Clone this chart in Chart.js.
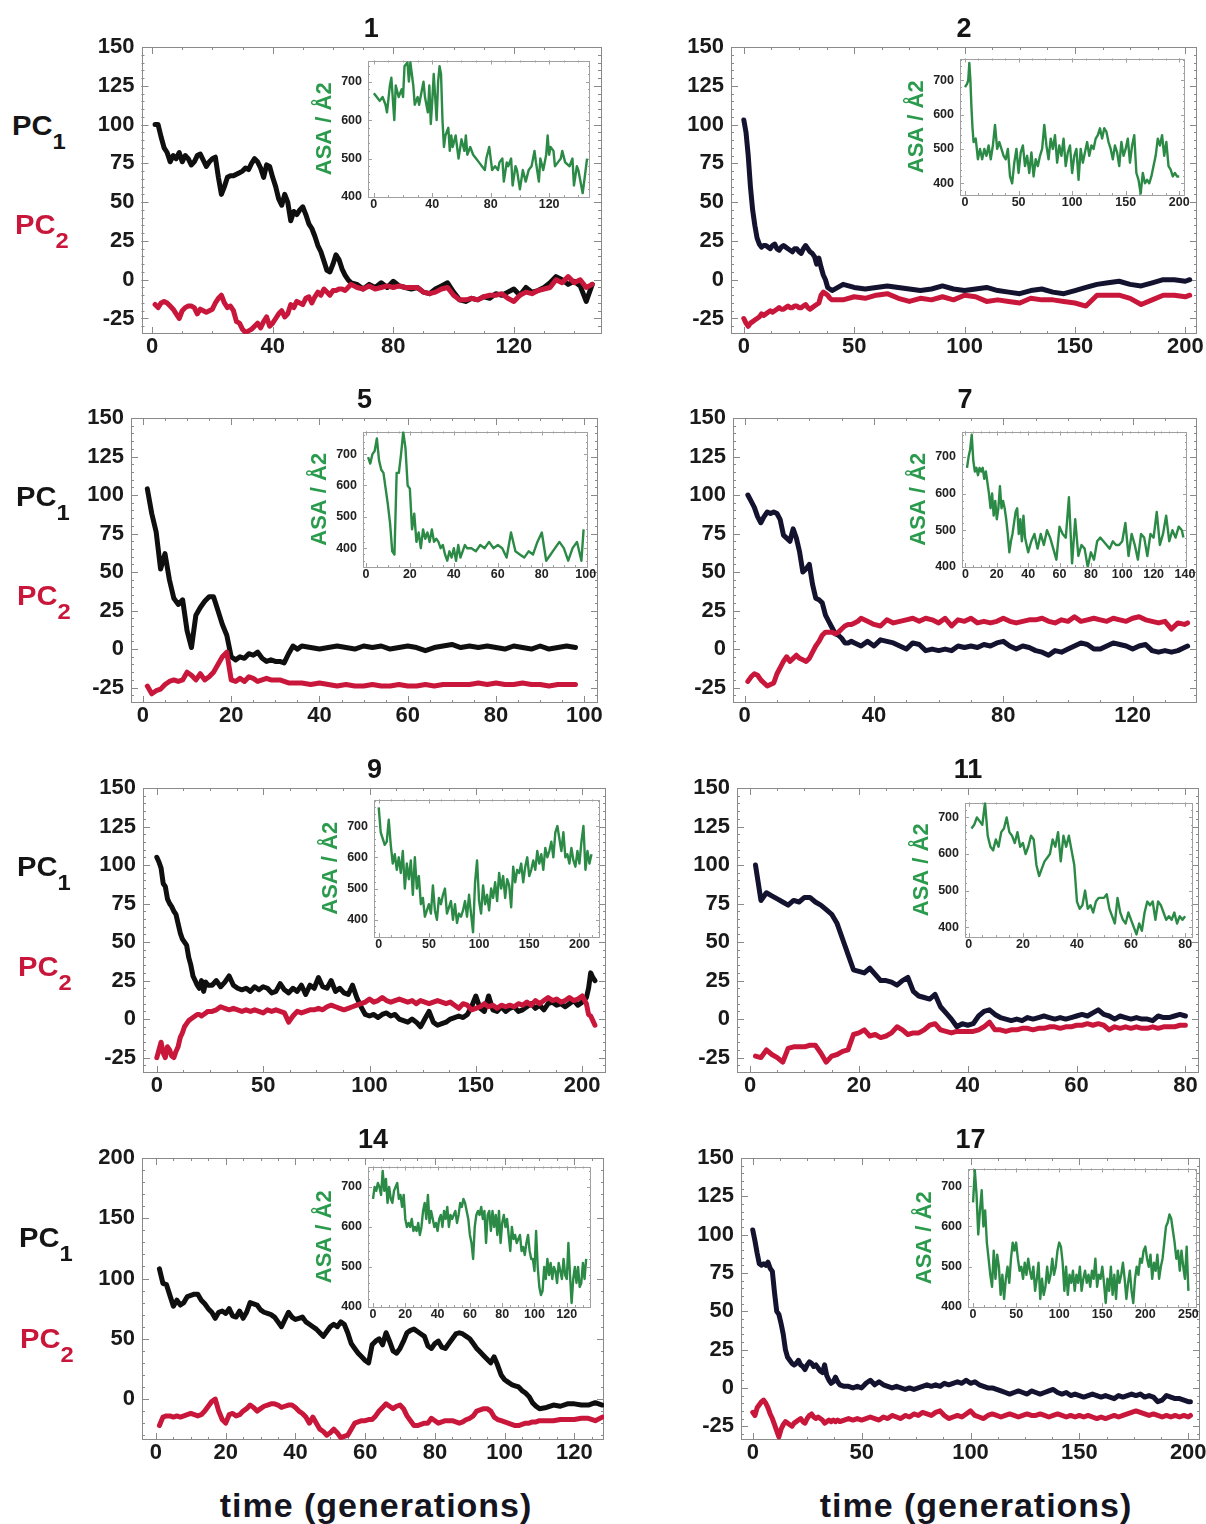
<!DOCTYPE html>
<html><head><meta charset="utf-8">
<script src="https://cdn.jsdelivr.net/npm/chart.js@4/dist/chart.umd.min.js"></script>
<style>
html,body{margin:0;padding:0;background:#fff;}
body{width:1206px;height:1524px;position:relative;overflow:hidden;font-family:"Liberation Sans",Arial,Helvetica,sans-serif;}
canvas{position:absolute;}
.pc{position:absolute;font-weight:bold;font-size:27px;line-height:27px;white-space:nowrap;transform-origin:left center;transform:scaleX(1.08);z-index:5;}
.pc .s{font-size:22px;vertical-align:-14px;}
.tl{position:absolute;width:420px;text-align:center;font-weight:bold;font-size:34px;line-height:34px;letter-spacing:1px;color:#151522;z-index:5;}
</style></head><body>
<div class="pc" style="left:12px;top:113px;color:#151515">PC<span class="s">1</span></div>
<div class="pc" style="left:15px;top:212px;color:#c8173a">PC<span class="s">2</span></div>
<div class="pc" style="left:16px;top:484px;color:#151515">PC<span class="s">1</span></div>
<div class="pc" style="left:17px;top:583px;color:#c8173a">PC<span class="s">2</span></div>
<div class="pc" style="left:17px;top:854px;color:#151515">PC<span class="s">1</span></div>
<div class="pc" style="left:18px;top:954px;color:#c8173a">PC<span class="s">2</span></div>
<div class="pc" style="left:19px;top:1225px;color:#151515">PC<span class="s">1</span></div>
<div class="pc" style="left:20px;top:1326px;color:#c8173a">PC<span class="s">2</span></div>
<div class="tl" style="left:166px;top:1488px;">time (generations)</div>
<div class="tl" style="left:766px;top:1488px;">time (generations)</div>
<script>
// ---------------- DATA ----------------
// Panel 1
const P1_GEN=[1,2,3,4,5,6,7,8,9,10,11,12,13,14,15,16,17,18,19,20,21,22,23,24,25,26,27,28,29,30,31,32,33,34,35,36,37,38,39,40,41,42,43,44,45,46,47,48,49,50,51,52,53,54,55,56,57,58,59,60,61,62,63,64,65,66,68,70,72,74,76,78,80,82,84,86,88,90,92,94,96,98,100,102,104,106,108,110,112,114,116,118,120,122,124,126,128,130,132,134,136,138,140,142,144,146];
const P1_PC1=[100,100,92,85,82,76,80,78,82,76,80,78,74,76,80,81,77,73,76,78,79,66,55,60,66,67,67,68,69,70,72,71,75,78,76,72,66,74,73,66,60,52,48,55,50,38,44,42,45,47,42,36,33,28,22,18,12,6,5,10,16,13,7,3,0,-2,-3,-6,-3,-5,-2,-5,-1,-4,-5,-6,-5,-8,-9,-6,-4,-2,-8,-13,-14,-12,-13,-11,-12,-9,-10,-8,-6,-10,-5,-8,-7,-5,-2,2,0,-3,-1,-4,-14,-3];
const P1_PC2=[-16,-18,-15,-14,-15,-17,-19,-22,-25,-20,-18,-17,-17,-18,-22,-19,-20,-21,-20,-19,-15,-12,-10,-15,-18,-17,-20,-27,-28,-32,-34,-33,-32,-30,-28,-31,-27,-24,-30,-28,-25,-22,-20,-24,-22,-16,-18,-14,-15,-16,-12,-11,-15,-11,-8,-10,-6,-8,-10,-7,-7,-6,-6,-7,-5,-3,-5,-6,-4,-6,-5,-4,-5,-4,-5,-5,-5,-8,-9,-8,-6,-5,-10,-13,-13,-12,-13,-11,-10,-10,-9,-12,-14,-10,-8,-9,-7,-6,-5,0,-2,2,-2,0,-5,-3];
const I1_GEN=[0,2,4,6,8,9,11,12,14,15,17,19,20,21,23,24,25,27,28,30,31,33,34,35,37,38,39,40,41,43,44,45,46,47,48,49,51,52,53,54,56,58,60,62,63,64,66,68,70,72,74,76,77,79,81,83,85,86,88,89,91,92,94,95,97,98,100,102,104,106,108,110,111,113,114,116,118,119,120,121,123,124,126,128,129,131,134,136,137,139,140,142,143,145,146];
const I1_ASA=[670,660,650,660,640,620,690,710,600,690,660,680,660,740,750,700,750,690,640,660,640,680,700,660,620,690,590,650,720,600,700,740,720,600,530,560,580,520,560,530,560,500,550,520,560,510,530,510,500,490,480,470,500,530,470,480,470,490,500,440,490,480,500,430,480,470,420,470,440,470,480,520,490,440,500,470,510,560,510,530,520,480,490,500,520,490,480,500,430,480,470,430,410,470,500];
// Panel 2
const P2_GEN=[0,1,2,3,4,5,6,7,8,9,10,11,12,13,14,15,16,17,18,19,20,21,22,23,24,25,26,27,28,29,30,31,32,33,34,35,36,37,38,39,40,45,50,55,60,65,70,75,80,85,90,95,100,105,110,115,120,125,130,135,140,145,150,155,160,165,170,175,180,185,190,195,200,202];
const P2_PC1=[103,95,80,60,45,35,27,23,21,22,22,21,20,22,23,20,19,21,22,21,20,19,18,20,20,18,17,20,22,20,18,17,15,10,14,8,3,0,-5,-6,-7,-3,-5,-6,-5,-4,-5,-6,-7,-6,-4,-6,-7,-6,-5,-7,-8,-9,-7,-6,-8,-9,-7,-5,-3,-2,-1,-3,-4,-2,0,0,-1,0];
const P2_PC2=[-25,-28,-30,-28,-27,-26,-25,-24,-22,-23,-22,-21,-20,-21,-20,-19,-18,-19,-19,-18,-17,-18,-18,-17,-17,-18,-18,-17,-16,-18,-19,-18,-17,-16,-15,-10,-8,-9,-10,-12,-13,-13,-11,-12,-10,-9,-12,-14,-12,-13,-11,-13,-10,-11,-14,-13,-14,-15,-12,-13,-13,-14,-15,-17,-10,-10,-10,-12,-16,-13,-10,-10,-11,-10];
const I2_GEN=[0,2,3,4,5,6,7,8,10,12,14,16,18,20,22,24,26,28,30,32,34,36,38,40,42,44,46,48,50,52,54,56,58,60,62,64,66,68,70,72,74,76,78,80,82,84,86,88,90,92,94,96,98,100,102,104,106,108,110,112,114,116,118,120,122,124,126,128,130,132,134,136,138,140,142,144,146,148,150,152,154,156,158,160,162,164,166,168,170,172,174,176,178,180,182,184,186,188,190,192,194,196,198,200];
const I2_ASA=[680,690,700,750,700,620,560,520,530,470,500,470,500,480,510,470,510,570,500,520,500,480,470,500,420,400,460,500,430,490,510,450,480,430,490,420,470,450,480,500,570,510,470,530,500,540,460,510,480,530,450,490,510,430,480,500,410,500,460,490,520,480,510,500,530,540,560,530,560,550,520,500,470,510,490,450,520,480,500,530,460,510,540,430,410,370,430,400,410,400,420,450,480,530,510,540,480,520,450,440,420,430,420,420];
// Panel 5
const P5_GEN=[1,2,3,4,5,6,7,8,9,10,11,12,13,14,15,16,17,18,19,20,21,22,23,24,25,26,27,28,29,30,31,32,33,34,35,36,38,40,42,44,46,48,50,52,54,56,58,60,62,64,66,68,70,72,74,76,78,80,82,84,86,88,90,92,94,96,98];
const P5_PC1=[104,88,76,52,62,45,33,29,32,12,1,22,27,31,34,34,25,16,9,-5,-7,-5,-6,-3,-4,-2,-6,-8,-7,-8,-8,-9,-3,2,0,2,1,0,1,2,1,0,2,1,2,0,1,2,1,-1,1,2,3,1,2,1,2,1,0,2,1,0,2,0,1,2,1];
const P5_PC2=[-24,-29,-27,-26,-23,-21,-20,-21,-20,-15,-17,-20,-16,-20,-18,-15,-10,-5,-2,-20,-21,-19,-21,-18,-19,-21,-20,-19,-20,-20,-20,-21,-22,-22,-22,-22,-23,-22,-23,-24,-23,-24,-24,-23,-24,-24,-23,-24,-24,-23,-24,-23,-23,-23,-23,-22,-23,-22,-23,-23,-22,-23,-23,-24,-23,-23,-23];
const I5_GEN=[1,2,3,4,5,6,7,8,9,10,11,12,13,14,15,16,17,18,19,20,21,22,23,24,25,26,27,28,29,30,31,32,33,34,35,36,37,38,39,40,41,42,43,44,45,46,48,50,52,54,56,58,60,62,64,66,68,70,72,74,76,78,80,82,84,86,88,90,92,94,96,98,99];
const I5_ASA=[690,670,700,710,750,680,650,640,590,540,480,390,380,640,640,700,770,720,600,590,460,510,420,450,400,460,430,450,420,460,420,430,420,400,410,380,360,390,370,400,360,410,370,390,410,400,400,390,410,400,420,400,410,400,370,450,390,380,370,390,380,420,450,360,380,400,420,400,360,400,420,360,460];
// Panel 7
const P7_GEN=[1,2,3,4,5,6,7,8,9,10,11,12,13,14,15,16,17,18,19,20,21,22,23,24,25,26,27,28,29,30,31,32,33,34,35,36,38,40,42,44,46,48,50,52,54,56,58,60,62,64,66,68,70,72,74,76,78,80,82,84,86,88,90,92,94,96,98,100,102,104,106,108,110,112,114,116,118,120,122,124,126,128,130,132,134,136,137];
const P7_PC1=[100,96,92,86,82,86,89,88,89,88,84,74,72,70,78,72,63,50,52,55,42,33,32,30,22,18,14,10,9,7,4,4,5,4,3,2,5,2,6,5,4,2,0,4,3,-1,0,-1,0,-1,2,1,2,1,3,2,4,5,2,0,2,1,-1,-2,-4,-1,-2,0,2,4,3,0,0,2,4,3,2,0,2,3,-1,-2,-1,-2,-1,1,2];
const P7_PC2=[-21,-18,-16,-17,-20,-22,-24,-23,-22,-16,-12,-8,-5,-8,-6,-4,-6,-7,-8,-6,-2,2,5,9,11,11,11,10,11,13,15,16,16,17,18,20,18,16,15,19,17,18,19,20,18,20,19,17,20,15,19,18,20,17,18,17,18,20,18,17,18,19,19,20,18,17,19,18,21,18,19,20,19,18,20,19,18,20,21,19,18,17,18,13,17,16,17];
const I7_GEN=[1,2,3,4,5,6,7,8,9,10,11,12,13,14,15,16,17,18,19,20,21,22,23,24,25,26,27,28,29,30,31,32,33,34,35,36,37,38,39,40,42,44,46,48,50,52,54,56,58,60,62,64,66,68,70,72,74,76,78,80,82,84,86,88,90,92,94,96,98,100,102,104,106,108,110,112,114,116,118,120,122,124,126,128,130,132,134,136,138,139];
const I7_ASA=[670,700,720,760,690,660,670,650,670,660,670,640,660,630,600,560,600,540,580,530,560,620,560,580,560,530,490,440,470,490,520,550,560,490,530,470,540,480,460,440,470,490,450,490,460,500,480,450,420,510,490,480,590,410,530,430,460,450,400,440,420,470,480,470,460,450,470,460,460,470,520,430,490,460,420,490,480,430,490,480,550,460,490,540,470,500,480,510,500,480];
// Panel 9
const P9_GEN=[0,1,2,3,4,5,6,7,8,9,10,11,12,13,14,15,16,17,18,19,20,21,22,23,24,26,28,30,32,34,36,38,40,42,44,46,48,50,52,54,56,58,60,62,64,66,68,70,72,74,76,78,80,82,84,86,88,90,92,94,96,98,100,102,104,106,108,110,112,114,116,118,120,122,124,126,128,130,132,134,136,138,140,142,144,146,148,150,152,154,156,158,160,162,164,166,168,170,172,174,176,178,180,182,184,186,188,190,192,194,196,198,200,202,203,204,205,206];
const P9_PC1=[105,102,98,88,86,78,75,73,70,68,62,56,52,50,48,40,35,28,25,22,20,25,18,24,22,22,25,21,24,28,22,20,19,20,18,21,19,21,20,17,18,23,19,17,20,18,22,16,22,20,27,21,20,25,18,20,17,16,22,14,8,3,2,3,1,3,4,2,3,0,-1,-2,0,-2,-5,0,5,-2,-4,-3,-2,0,1,2,1,3,8,15,7,5,15,6,5,8,5,7,8,5,6,8,10,7,9,6,10,11,9,10,8,10,12,9,11,14,20,30,27,25];
const P9_PC2=[-25,-20,-15,-22,-25,-18,-20,-24,-25,-21,-18,-12,-9,-5,-3,-1,0,1,2,3,3,2,3,4,5,5,6,8,7,6,7,6,5,6,5,6,5,4,6,5,6,5,4,-2,2,5,4,5,6,6,7,6,8,9,8,7,6,7,8,9,10,11,13,11,12,14,12,11,12,13,12,11,12,10,12,11,10,11,12,11,10,11,9,7,10,9,6,7,8,10,8,9,7,9,8,9,8,10,9,11,9,12,10,12,14,12,13,11,12,14,12,13,15,10,3,2,-1,-4];
const I9_GEN=[0,2,4,6,8,10,12,14,16,18,20,22,24,26,28,30,32,34,36,38,40,42,44,46,48,50,52,54,56,58,60,62,64,66,68,70,72,74,76,78,80,82,84,86,88,90,92,94,96,98,100,102,104,106,108,110,112,114,116,118,120,122,124,126,128,130,132,134,136,138,140,142,144,146,148,150,152,154,156,158,160,162,164,166,168,170,172,174,176,178,180,182,184,186,188,190,192,194,196,198,200,202,204,206,208,210,212];
const I9_ASA=[760,680,660,640,650,720,640,580,610,560,600,550,620,500,580,530,590,480,600,500,540,450,470,410,430,450,420,510,430,400,470,450,480,500,420,440,460,400,450,390,420,410,430,460,410,480,420,360,520,590,460,420,510,450,480,430,500,470,520,460,550,500,540,470,530,510,440,570,520,560,550,580,520,570,600,540,560,590,560,620,580,610,560,630,600,620,650,600,680,700,660,620,680,600,610,580,630,590,570,620,580,650,700,560,620,580,610];
// Panel 11
const P11_GEN=[1,2,3,4,5,6,7,8,9,10,11,12,13,14,15,16,17,18,19,20,21,22,23,24,25,26,27,28,29,30,31,32,33,34,35,36,37,38,39,40,41,42,43,44,45,46,47,48,49,50,51,52,53,54,55,56,57,58,59,60,61,62,63,64,65,66,67,68,69,70,71,72,73,74,75,76,77,78,79,80];
const P11_PC1=[100,77,82,80,78,76,74,77,76,79,79,76,74,71,68,62,52,42,32,31,30,33,29,25,25,24,22,25,27,18,15,14,13,16,8,4,0,-5,-3,-4,-3,2,5,6,3,1,0,-1,0,-1,1,0,1,2,1,0,1,0,1,2,3,2,4,6,3,2,0,2,1,0,1,0,0,-1,2,1,1,2,3,2];
const P11_PC2=[-24,-25,-20,-23,-25,-28,-19,-18,-18,-18,-17,-17,-22,-28,-24,-23,-21,-20,-10,-9,-7,-11,-10,-12,-11,-9,-5,-7,-10,-9,-9,-7,-4,-3,-7,-8,-9,-8,-8,-8,-8,-7,-5,-2,-7,-7,-8,-7,-7,-6,-6,-7,-6,-6,-5,-5,-6,-5,-5,-4,-4,-3,-4,-3,-4,-7,-5,-6,-5,-6,-5,-6,-6,-5,-6,-5,-5,-5,-4,-4];
const I11_GEN=[1,2,3,4,5,6,7,8,9,10,11,12,13,14,15,16,17,18,19,20,21,22,23,24,25,26,27,28,29,30,31,32,33,34,35,36,37,38,39,40,41,42,43,44,45,46,47,48,49,50,51,52,53,54,55,56,57,58,59,60,61,62,63,64,65,66,67,68,69,70,71,72,73,74,75,76,77,78,79,80];
const I11_ASA=[670,680,700,690,680,740,650,620,610,640,620,660,670,700,660,650,630,660,620,630,600,620,650,640,570,540,560,580,590,600,640,620,660,580,650,620,650,610,570,470,450,460,500,450,460,440,470,480,480,480,490,450,430,410,480,440,420,410,440,420,400,380,410,390,440,470,460,470,420,470,460,440,420,430,420,440,410,430,420,430];
// Panel 14
const P14_GEN=[1,2,3,4,5,6,7,8,9,10,11,12,13,14,15,16,17,18,19,20,21,22,23,24,25,26,27,28,29,30,31,32,33,34,35,36,37,38,39,40,41,42,43,44,45,46,47,48,49,50,51,52,53,54,55,56,57,58,59,60,61,62,63,64,65,66,67,68,69,70,71,72,73,74,75,76,77,78,79,80,81,82,83,84,85,86,87,88,89,90,91,92,93,94,95,96,97,98,99,100,101,102,103,104,105,106,107,108,109,110,112,114,116,118,120,122,124,126,128];
const P14_PC1=[108,96,95,86,77,82,78,80,85,86,87,87,82,79,75,72,67,72,73,71,75,69,68,73,67,72,80,79,78,74,72,71,70,68,64,60,66,72,68,66,67,68,64,62,60,58,55,52,56,60,62,60,64,62,55,46,42,38,35,32,30,45,48,50,45,55,48,40,38,42,48,55,57,58,56,54,52,44,42,46,48,43,42,46,50,54,55,54,52,50,46,42,39,36,33,30,35,28,20,16,14,12,11,10,7,5,2,-3,-6,-8,-7,-5,-6,-4,-4,-5,-5,-3,-5];
const P14_PC2=[-22,-15,-14,-14,-15,-14,-15,-14,-13,-12,-13,-14,-13,-10,-6,-2,0,-10,-17,-20,-13,-12,-14,-13,-10,-8,-5,-7,-10,-8,-6,-5,-4,-4,-5,-7,-6,-5,-5,-7,-10,-12,-15,-20,-15,-20,-25,-27,-30,-28,-25,-28,-32,-31,-30,-25,-20,-19,-18,-18,-17,-17,-14,-10,-7,-4,-6,-8,-6,-5,-8,-14,-18,-22,-22,-21,-20,-20,-16,-18,-20,-19,-18,-18,-18,-19,-20,-19,-17,-16,-14,-10,-9,-8,-8,-10,-15,-17,-18,-19,-20,-21,-22,-22,-21,-20,-20,-19,-19,-18,-18,-18,-17,-17,-17,-16,-16,-18,-15];
const I14_GEN=[0,1,2,3,4,5,6,7,8,9,10,11,12,13,14,15,16,17,18,19,20,21,22,23,24,25,26,27,28,29,30,31,32,33,34,35,36,37,38,39,40,41,42,43,44,45,46,47,48,49,50,51,52,53,54,55,56,57,58,59,60,61,62,63,64,65,66,67,68,69,70,71,72,73,74,75,76,77,78,79,80,81,82,83,84,85,86,87,88,89,90,91,92,93,94,95,96,97,98,99,100,101,102,103,104,105,106,107,108,109,110,111,112,113,114,115,116,117,118,119,120,121,122,123,124,125,126,127,128,129,130,131,132];
const I14_ASA=[670,700,690,710,700,680,740,690,720,660,700,670,660,690,700,710,670,680,650,680,620,600,610,600,620,590,600,590,610,580,600,640,660,620,680,610,640,620,600,610,590,620,630,600,640,620,650,600,630,620,630,640,610,630,660,650,670,660,640,620,580,560,520,600,630,640,630,650,620,640,560,630,640,590,640,600,630,580,640,560,610,630,600,620,580,540,600,570,580,560,570,580,540,550,530,560,580,540,520,520,490,590,500,450,430,440,500,470,520,480,510,470,500,490,460,510,490,470,520,480,470,560,480,410,470,500,460,500,450,460,510,470,520];
// Panel 17
const P17_GEN=[0,1,2,3,4,5,6,7,8,9,10,11,12,13,14,15,16,17,18,19,20,21,22,23,24,25,26,27,28,29,30,31,32,33,34,35,36,37,38,39,40,42,44,46,48,50,52,54,56,58,60,62,64,66,68,70,72,74,76,78,80,82,84,86,88,90,92,94,96,98,100,102,104,106,108,110,112,114,116,118,120,122,124,126,128,130,132,134,136,138,140,142,144,146,148,150,152,154,156,158,160,162,164,166,168,170,172,174,176,178,180,182,184,186,188,190,192,194,196,198,200,201];
const P17_PC1=[103,96,88,81,80,81,80,82,78,76,62,50,48,42,35,25,20,18,16,15,16,18,15,14,12,15,17,16,14,15,13,11,10,15,8,5,3,4,7,4,2,1,1,0,1,0,3,5,2,4,2,1,0,1,0,-1,0,-1,0,1,2,1,2,1,3,2,3,4,3,5,3,4,2,1,0,0,-1,-2,-3,-4,-3,-2,-3,-4,-2,-3,-4,-3,-2,-1,-3,-4,-3,-5,-4,-5,-6,-5,-4,-5,-6,-5,-6,-7,-5,-6,-5,-4,-5,-4,-6,-5,-6,-9,-8,-5,-6,-7,-7,-8,-9,-9];
const P17_PC2=[-16,-18,-13,-11,-9,-8,-10,-13,-17,-20,-24,-28,-32,-27,-24,-22,-23,-24,-25,-23,-22,-21,-20,-22,-23,-20,-18,-17,-19,-20,-19,-20,-21,-23,-22,-21,-22,-21,-22,-21,-22,-21,-20,-21,-20,-21,-20,-19,-20,-21,-19,-20,-18,-19,-20,-18,-19,-17,-18,-16,-17,-18,-16,-15,-18,-20,-19,-18,-19,-17,-15,-18,-19,-20,-18,-17,-18,-19,-18,-17,-18,-19,-18,-17,-18,-18,-17,-18,-19,-18,-17,-18,-19,-18,-19,-18,-19,-18,-19,-20,-19,-20,-19,-18,-19,-18,-17,-16,-15,-16,-17,-18,-17,-18,-19,-18,-19,-18,-19,-18,-19,-18];
const I17_GEN=[0,2,4,6,8,10,12,14,16,18,20,22,24,26,28,30,32,34,36,38,40,42,44,46,48,50,52,54,56,58,60,62,64,66,68,70,72,74,76,78,80,82,84,86,88,90,92,94,96,98,100,102,104,106,108,110,112,114,116,118,120,122,124,126,128,130,132,134,136,138,140,142,144,146,148,150,152,154,156,158,160,162,164,166,168,170,172,174,176,178,180,182,184,186,188,190,192,194,196,198,200,202,204,206,208,210,212,214,216,218,220,222,224,226,228,230,232,234,236,238,240,242,244,246,248,250];
const I17_ASA=[660,740,680,580,640,690,600,640,560,520,480,450,540,470,530,500,430,480,420,470,500,460,520,560,540,560,520,490,500,470,510,480,520,490,470,500,440,470,510,420,470,430,450,500,460,480,520,480,500,540,560,550,510,440,500,430,480,460,490,440,480,460,500,440,470,490,460,480,450,490,470,520,450,480,470,500,460,410,470,440,500,430,480,420,490,460,480,510,470,420,460,490,440,410,470,500,480,520,510,540,550,520,500,530,470,510,490,530,470,500,520,560,600,610,630,620,590,560,520,540,490,540,500,470,550,440];
// inset ASA tick labels
const INSET_Y_TICKS=[400,500,600,700];

// ---------------- LAYOUT / STYLE ----------------
const RED='#c8173a', GREEN='#2b8a45', ASA_GREEN='#2a9a4c', BLACK='#0f0f0f', NAVY='#131330', FRAME='#8a8a8a';
const panels=[
 {id:'1', gen:P1_GEN,pc1:P1_PC1,pc2:P1_PC2,ig:I1_GEN,asa:I1_ASA, frame:[141.5,47,601,334], x:[-3.5,148.9], xs:40, y:[-35,150], ys:25, ink:BLACK, inset:[368,59,590,197], ix:[-4,148], ixs:40, iy:[400,755]},
 {id:'2', gen:P2_GEN,pc1:P2_PC1,pc2:P2_PC2,ig:I2_GEN,asa:I2_ASA, frame:[731,47,1197,334], x:[-5.8,205.3], xs:50, y:[-35,150], ys:25, ink:NAVY, inset:[960,57,1185,195], ix:[-4.7,205.4], ixs:50, iy:[366,763]},
 {id:'5', gen:P5_GEN,pc1:P5_PC1,pc2:P5_PC2,ig:I5_GEN,asa:I5_ASA, frame:[131,418,598,703], x:[-2.7,103.1], xs:20, y:[-35,150], ys:25, ink:BLACK, inset:[363,430,588,567], ix:[-1.3,101], ixs:20, iy:[340,772]},
 {id:'7', gen:P7_GEN,pc1:P7_PC1,pc2:P7_PC2,ig:I7_GEN,asa:I7_ASA, frame:[733,418,1197,703], x:[-3.6,139.9], xs:40, y:[-35,150], ys:25, ink:NAVY, inset:[962,430,1187,567], ix:[-2.2,141.3], ixs:20, iy:[400,769]},
 {id:'9', gen:P9_GEN,pc1:P9_PC1,pc2:P9_PC2,ig:I9_GEN,asa:I9_ASA, frame:[143,788,606,1073], x:[-6.5,211.2], xs:50, y:[-35,150], ys:25, ink:BLACK, inset:[374,798,600,937], ix:[-4.7,220.5], ixs:50, iy:[345,785]},
 {id:'11', gen:P11_GEN,pc1:P11_PC1,pc2:P11_PC2,ig:I11_GEN,asa:I11_ASA, frame:[737,788,1199,1073], x:[-2.4,82.5], xs:20, y:[-35,150], ys:25, ink:NAVY, inset:[965,801,1193,937], ix:[-1.4,82.9], ixs:20, iy:[373,741]},
 {id:'14', gen:P14_GEN,pc1:P14_PC1,pc2:P14_PC2,ig:I14_GEN,asa:I14_ASA, frame:[142,1158,604,1440], x:[-4,128.5], xs:20, y:[-34,200], ys:50, ink:BLACK, inset:[368,1165,591,1307], ix:[-3.1,135], ixs:20, iy:[400,751]},
 {id:'17', gen:P17_GEN,pc1:P17_PC1,pc2:P17_PC2,ig:I17_GEN,asa:I17_ASA, frame:[741,1158,1200,1440], x:[-5.4,205.4], xs:50, y:[-34,150], ys:25, ink:NAVY, inset:[968,1167,1197,1307], ix:[-5.9,260], ixs:50, iy:[400,744]}
];

Chart.defaults.font.family='"Liberation Sans", Arial, Helvetica, sans-serif';
Chart.defaults.color='#1a1a1a';

const pts=(xs,ys)=>xs.map((x,i)=>({x:x,y:ys[i]}));

const frameTicks={
  id:'frameTicks',
  beforeDatasetsDraw(chart,args,o){
    const {ctx,chartArea:a,scales:{x,y}}=chart;
    ctx.save();
    ctx.strokeStyle=o.color; ctx.lineWidth=1;
    ctx.strokeRect(Math.round(a.left)+0.5,Math.round(a.top)+0.5,Math.round(a.right-a.left)-1,Math.round(a.bottom-a.top)-1);
    ctx.beginPath();
    const tx=(v,len)=>{const p=Math.round(x.getPixelForValue(v))+0.5; if(p<a.left+2||p>a.right-2)return; ctx.moveTo(p,a.bottom);ctx.lineTo(p,a.bottom-len);ctx.moveTo(p,a.top);ctx.lineTo(p,a.top+len);};
    const ty=(v,len)=>{const p=Math.round(y.getPixelForValue(v))+0.5; if(p<a.top+2||p>a.bottom-2)return; ctx.moveTo(a.left,p);ctx.lineTo(a.left+len,p);ctx.moveTo(a.right,p);ctx.lineTo(a.right-len,p);};
    const run=(s,fn,div)=>{
      const t=s.ticks.map(k=>k.value);
      t.forEach(v=>fn(v,o.major));
      if(t.length>1){const st=(t[1]-t[0])/div; for(let v=Math.ceil(s.min/st)*st; v<=s.max; v+=st) fn(v,o.minor);}
    };
    run(x,tx,o.xDiv); run(y,ty,o.yDiv);
    ctx.stroke(); ctx.restore();
  }
};

function makeCanvas(left,top,w,h){
  const c=document.createElement('canvas');
  c.width=w; c.height=h;
  c.style.left=left+'px'; c.style.top=top+'px';
  c.style.width=w+'px'; c.style.height=h+'px';
  document.body.appendChild(c);
  return c;
}

function mainChart(p){
  const [fl,ft,fr,fb]=p.frame;
  const TITLE_H=27*1.2+8;
  const cl=Math.round(fl-75), ct=Math.floor(ft-TITLE_H);
  const L=fl-cl, padTop=ft-ct-TITLE_H, B=40;
  const w=Math.ceil(fr-cl+28), h=Math.ceil(fb-ct+B);
  const padRight=w-(fr-cl), xH=h-(fb-ct);
  const c=makeCanvas(cl,ct,w,h);
  new Chart(c,{
    type:'line',
    data:{datasets:[
      {data:pts(p.gen,p.pc2),borderColor:RED,borderWidth:5,pointRadius:0,tension:0,borderJoinStyle:'round',borderCapStyle:'round',fill:false},
      {data:pts(p.gen,p.pc1),borderColor:p.ink,borderWidth:5,pointRadius:0,tension:0,borderJoinStyle:'round',borderCapStyle:'round',fill:false}
    ]},
    options:{
      responsive:false,animation:false,devicePixelRatio:1,
      layout:{padding:{top:padTop,right:padRight,left:0,bottom:0}},
      plugins:{
        legend:{display:false},tooltip:{enabled:false},
        title:{display:true,text:p.id,fullSize:false,color:'#151515',font:{size:27,weight:'bold'},padding:{top:7,bottom:1}},
        frameTicks:{color:FRAME,major:7,minor:3,xDiv:4,yDiv:5}
      },
      scales:{
        x:{type:'linear',min:p.x[0],max:p.x[1],grid:{display:false,drawTicks:false},border:{display:false},
           ticks:{stepSize:p.xs,includeBounds:false,autoSkip:false,maxRotation:0,padding:0,color:'#1a1a1a',font:{size:22,weight:'bold'}},
           afterFit:s=>{s.height=xH;}},
        y:{type:'linear',min:p.y[0],max:p.y[1],grid:{display:false,drawTicks:false},border:{display:false},
           ticks:{stepSize:p.ys,includeBounds:false,autoSkip:false,padding:7,color:'#1a1a1a',font:{size:22,weight:'bold'}},
           afterFit:s=>{s.width=L;}}
      }
    },
    plugins:[frameTicks]
  });
}

function insetChart(p){
  const [fl,ft,fr,fb]=p.inset;
  const cl=Math.round(fl-58), ct=Math.round(ft-12);
  const L=fl-cl, padTop=ft-ct;
  const w=Math.ceil(fr-cl+16), h=Math.ceil(fb-ct+20);
  const padRight=w-(fr-cl), xH=h-(fb-ct);
  const c=makeCanvas(cl,ct,w,h);
  new Chart(c,{
    type:'line',
    data:{datasets:[
      {data:pts(p.ig,p.asa),borderColor:GREEN,borderWidth:2.4,pointRadius:0,tension:0,borderJoinStyle:'round',fill:false}
    ]},
    options:{
      responsive:false,animation:false,devicePixelRatio:1,
      layout:{padding:{top:padTop,right:padRight,left:0,bottom:0}},
      plugins:{legend:{display:false},tooltip:{enabled:false},
        frameTicks:{color:'#a0a0a0',major:4,minor:2,xDiv:4,yDiv:5}},
      scales:{
        x:{type:'linear',min:p.ix[0],max:p.ix[1],grid:{display:false,drawTicks:false},border:{display:false},
           ticks:{stepSize:p.ixs,includeBounds:false,autoSkip:false,maxRotation:0,padding:0,color:'#222',font:{size:12.5,weight:'bold'}},
           afterFit:s=>{s.height=xH;}},
        y:{type:'linear',min:p.iy[0],max:p.iy[1],grid:{display:false,drawTicks:false},border:{display:false},
           afterBuildTicks:s=>{s.ticks=INSET_Y_TICKS.filter(v=>v>=s.min&&v<=s.max).map(v=>({value:v}));},
           ticks:{autoSkip:false,padding:6,color:'#222',font:{size:12.5,weight:'bold'}},
           title:{display:true,text:'ASA / Å2',color:ASA_GREEN,font:{size:22,weight:'bold'},padding:{top:2,bottom:0}},
           afterFit:s=>{s.width=L;}}
      }
    },
    plugins:[frameTicks]
  });
}

panels.forEach(mainChart);
panels.forEach(insetChart);
</script>
</body></html>
